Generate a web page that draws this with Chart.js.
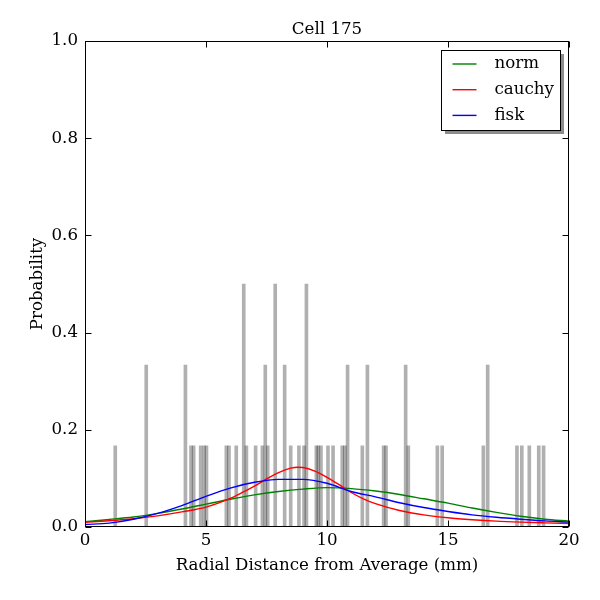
<!DOCTYPE html>
<html>
<head>
<meta charset="utf-8">
<title>Cell 175</title>
<script src="https://cdn.jsdelivr.net/npm/chart.js@4/dist/chart.umd.min.js"></script>
<style>
    body { margin: 0; background: #fff; }
</style>
</head>
<body>
<canvas id="cellChart" width="600" height="600"></canvas>
<script>
// histogram bins (centre in mm, probability)
const binCenters = [1.25, 2.53, 4.15, 4.38, 4.49, 4.78, 4.92, 5.02, 5.84, 5.95, 6.25, 6.56, 6.67,
    7.05, 7.33, 7.45, 7.55, 7.86, 8.25, 8.50, 8.84, 9.05, 9.15, 9.56, 9.64, 9.75,
    10.04, 10.25, 10.63, 10.74, 10.85, 11.46, 11.67, 12.34, 12.44, 13.25, 13.36,
    14.56, 14.76, 16.46, 16.64, 17.85, 18.05, 18.36, 18.75, 18.95];
const binHeights = [0.167, 0.333, 0.333, 0.167, 0.167, 0.167, 0.167, 0.167, 0.167, 0.167, 0.167, 0.5, 0.167,
    0.167, 0.167, 0.333, 0.167, 0.5, 0.333, 0.167, 0.167, 0.167, 0.5, 0.167, 0.167, 0.167,
    0.167, 0.167, 0.167, 0.167, 0.333, 0.167, 0.333, 0.167, 0.167, 0.333, 0.167,
    0.167, 0.167, 0.167, 0.333, 0.167, 0.167, 0.167, 0.167, 0.167];

const curveX = [0, 1, 2, 3, 4, 5, 6, 7, 8, 9, 10, 11, 12, 13, 14, 15, 16, 17, 18, 19, 20];
const normValues = [0.011, 0.0155, 0.0205, 0.028, 0.037, 0.047, 0.057, 0.066, 0.073, 0.078, 0.081,
    0.079, 0.074, 0.067, 0.058, 0.049, 0.039, 0.030, 0.022, 0.016, 0.012];
const fiskValues = [0.005, 0.008, 0.016, 0.028, 0.044, 0.063, 0.080, 0.092, 0.098, 0.098, 0.090,
    0.073, 0.062, 0.050, 0.040, 0.032, 0.025, 0.020, 0.016, 0.0125, 0.010];

// cauchy needs more points around its peak
const cauchyX = [0, 1, 2, 3, 4, 5, 6, 6.5, 7, 7.5, 8, 8.5, 8.8, 9, 9.5, 10, 10.5, 11, 11.5, 12,
    13, 14, 15, 16, 17, 18, 19, 20];
const cauchyValues = [0.0098, 0.013, 0.017, 0.023, 0.031, 0.041, 0.059, 0.071, 0.084, 0.099, 0.112,
    0.121, 0.123, 0.1225, 0.115, 0.102, 0.087, 0.071, 0.058, 0.048,
    0.034, 0.025, 0.019, 0.015, 0.012, 0.010, 0.0085, 0.0072];

const xTicks = [0, 5, 10, 15, 20];
const yTicks = [0, 0.2, 0.4, 0.6, 0.8, 1.0];

const serif = "'DejaVu Serif', 'Liberation Serif', serif";
const fontSize = 16.67;
Chart.defaults.font.family = serif;
Chart.defaults.font.size = fontSize;
Chart.defaults.color = "#000";

function toPoints(xs, ys) {
    return xs.map((x, i) => ({ x: x, y: ys[i] }));
}

function curve(label, color, xs, ys, order) {
    return {
        type: "line",
        label: label,
        data: toPoints(xs, ys),
        borderColor: color,
        borderWidth: 1.4,
        pointRadius: 0,
        fill: false,
        cubicInterpolationMode: "monotone",
        order: order
    };
}

// frame, inward ticks, title and the boxed legend with its shadow
const framePlugin = {
    id: "frame",
    beforeDraw(chart) {
        const ctx = chart.ctx;
        ctx.save();
        ctx.fillStyle = "#fff";
        ctx.fillRect(0, 0, chart.width, chart.height);
        ctx.restore();
    },
    afterDraw(chart) {
        const { ctx, chartArea: a, scales } = chart;
        const L = Math.round(a.left) + 0.5, R = Math.round(a.right) - 0.5;
        const T = Math.round(a.top) + 0.5, B = Math.round(a.bottom) - 0.5;
        ctx.save();
        ctx.strokeStyle = "#000";
        ctx.lineWidth = 1;
        ctx.strokeRect(L, T, R - L, B - T);

        ctx.beginPath();
        xTicks.forEach(v => {
            const px = Math.round(scales.x.getPixelForValue(v)) + 0.5;
            ctx.moveTo(px, B); ctx.lineTo(px, B - 6);
            ctx.moveTo(px, T); ctx.lineTo(px, T + 6);
        });
        yTicks.forEach(v => {
            const py = Math.round(scales.y.getPixelForValue(v)) + 0.5;
            ctx.moveTo(L, py); ctx.lineTo(L + 6, py);
            ctx.moveTo(R, py); ctx.lineTo(R - 6, py);
        });
        ctx.stroke();

        ctx.fillStyle = "#000";
        ctx.font = fontSize + "px " + serif;
        ctx.textAlign = "center";
        ctx.textBaseline = "alphabetic";
        ctx.fillText("Cell 175", (a.left + a.right) / 2, a.top - 7);

        // legend
        const lines = chart.data.datasets.filter(d => d.type === "line")
            .sort((p, q) => q.order - p.order);
        const bw = 119, bh = 80;
        const bx = Math.round(a.right) - 9 - bw + 0.5, by = Math.round(a.top) + 9 + 0.5;
        ctx.fillStyle = "#8c8c8c";
        ctx.fillRect(bx + 3.5, by + 3.5, bw, bh);
        ctx.fillStyle = "#fff";
        ctx.fillRect(bx, by, bw, bh);
        ctx.strokeStyle = "#000";
        ctx.strokeRect(bx, by, bw, bh);
        ctx.textAlign = "left";
        ctx.textBaseline = "middle";
        lines.forEach((d, i) => {
            const ly = by + 13.5 + i * 25.7;
            ctx.strokeStyle = d.borderColor;
            ctx.lineWidth = 1.4;
            ctx.beginPath();
            ctx.moveTo(bx + 11, ly);
            ctx.lineTo(bx + 35, ly);
            ctx.stroke();
            ctx.fillStyle = "#000";
            ctx.fillText(d.label, bx + 53, ly);
        });
        ctx.restore();
    }
};

new Chart(document.getElementById("cellChart"), {
    type: "bar",
    data: {
        datasets: [
            curve("norm", "#008000", curveX, normValues, 3),
            curve("cauchy", "#ff0000", cauchyX, cauchyValues, 2),
            curve("fisk", "#0000ff", curveX, fiskValues, 1),
            {
                type: "bar",
                label: "hist",
                data: toPoints(binCenters, binHeights),
                backgroundColor: "rgba(0, 0, 0, 0.31)",
                borderWidth: 0,
                barThickness: 3,
                grouped: false,
                order: 4
            }
        ]
    },
    options: {
        responsive: false,
        animation: false,
        events: [],
        layout: { padding: { top: 41, right: 31, bottom: 0, left: 0 } },
        plugins: {
            legend: { display: false },
            title: { display: false },
            tooltip: { enabled: false }
        },
        scales: {
            x: {
                type: "linear",
                min: 0,
                max: 20,
                offset: false,
                grid: { display: false, drawTicks: false },
                border: { display: false },
                afterFit: s => { s.height = 73; },
                afterBuildTicks: s => { s.ticks = xTicks.map(v => ({ value: v })); },
                ticks: { padding: 4, maxRotation: 0, callback: v => String(v) },
                title: {
                    display: true,
                    text: "Radial Distance from Average (mm)",
                    padding: { top: 0, bottom: 24 }
                }
            },
            y: {
                type: "linear",
                min: 0,
                max: 1,
                grid: { display: false, drawTicks: false },
                border: { display: false },
                afterFit: s => { s.width = 85; },
                afterBuildTicks: s => { s.ticks = yTicks.map(v => ({ value: v })); },
                ticks: { padding: 7, callback: v => v.toFixed(1) },
                title: {
                    display: true,
                    text: "Probability",
                    padding: { top: 28, bottom: 0 }
                }
            }
        }
    },
    plugins: [framePlugin]
});
</script>
</body>
</html>
